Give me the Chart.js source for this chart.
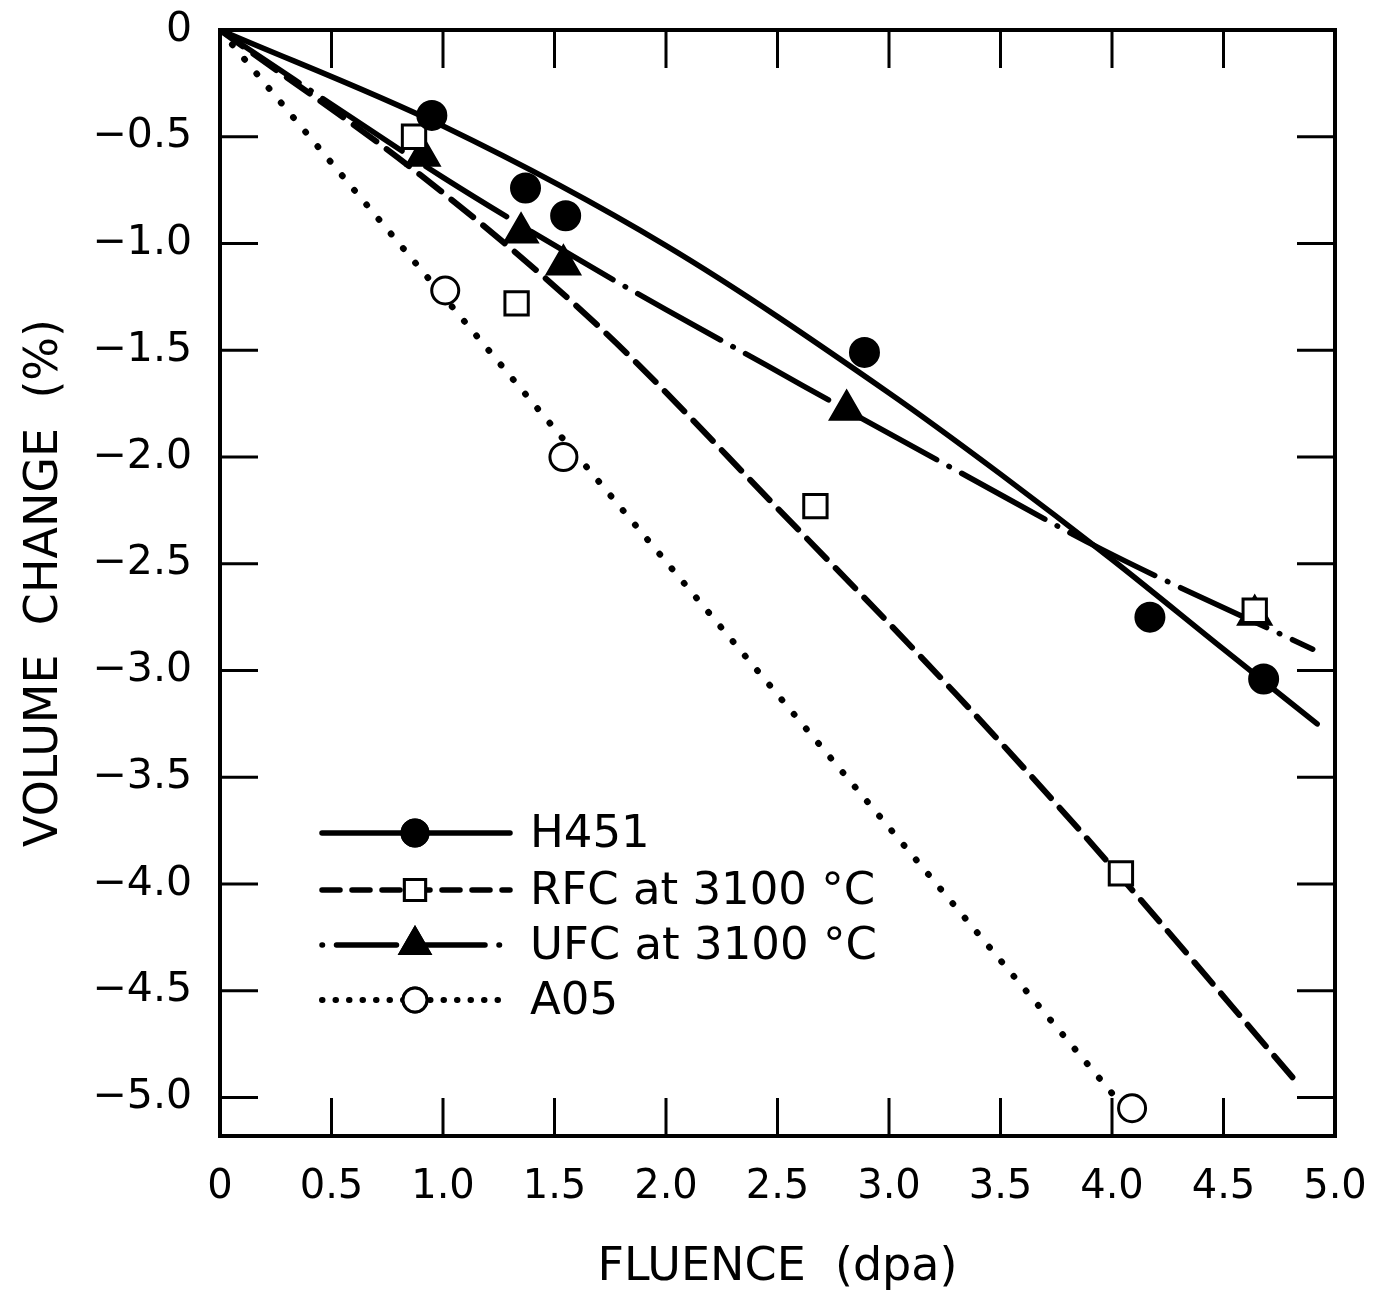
<!DOCTYPE html>
<html>
<head>
<meta charset="utf-8">
<script src="https://cdn.jsdelivr.net/npm/chart.js@4.4.1/dist/chart.umd.min.js"></script>
<style>
  html, body { margin: 0; padding: 0; background: #fff; }
  #chart { display: block; }
</style>
</head>
<body>
<canvas id="chart" width="1377" height="1295"></canvas>
<script>
// measured points (fluence in dpa, volume change in %)
const h451Fluence = [0.95, 1.37, 1.55, 2.89, 4.17, 4.68];
const h451Change  = [-0.40, -0.74, -0.87, -1.51, -2.75, -3.04];
const rfcFluence  = [0.87, 1.33, 2.67, 4.04, 4.64];
const rfcChange   = [-0.50, -1.28, -2.23, -3.95, -2.72];
const ufcFluence  = [0.91, 1.35, 1.54, 2.81, 4.64];
const ufcChange   = [-0.59, -0.95, -1.10, -1.78, -2.74];
const a05Fluence  = [1.01, 1.54, 4.09];
const a05Change   = [-1.22, -2.00, -5.05];

// hand-drawn trend curves
const h451FitFluence = [0, 1, 2, 3, 3.5, 4, 4.5, 4.92];
const h451FitChange  = [0, -0.45, -1.01, -1.70, -2.08, -2.48, -2.90, -3.25];
const rfcFitFluence  = [0, 0.9, 1.7, 2.5, 3.3, 3.95, 4.83];
const rfcFitChange   = [0, -0.68, -1.39, -2.24, -3.11, -3.86, -4.93];
const ufcFitFluence  = [0, 1.0, 1.6, 2.0, 2.45, 2.81, 3.35, 3.95, 4.9];
const ufcFitChange   = [0, -0.69, -1.07, -1.31, -1.57, -1.78, -2.09, -2.43, -2.90];
const a05FitFluence  = [0, 4.0];
const a05FitChange   = [0, -4.98];

const seriesLabels = ['H451', 'RFC at 3100 °C', 'UFC at 3100 °C', 'A05'];
const xTickStep = 0.5;
const yTickStep = 0.5;

const FONT = 'DejaVu Sans';
const INK = '#000';

// dash styles for each series
const dashes = {
  h451: [],
  rfc: [28, 13],
  ufc: [95, 14, 0.5, 14],
  a05: [0.5, 18.5]
};

function toPoints(xs, ys) {
  return xs.map((x, i) => ({ x: x, y: ys[i] }));
}

function markerSet(label, xs, ys, style, radius, fill) {
  return {
    label: label,
    data: toPoints(xs, ys),
    showLine: false,
    pointStyle: style,
    pointRadius: radius,
    pointHoverRadius: radius,
    pointBackgroundColor: fill,
    pointBorderColor: INK,
    pointBorderWidth: 3
  };
}

function fitSet(label, xs, ys, dash, width) {
  return {
    label: label + ' fit',
    data: toPoints(xs, ys),
    showLine: true,
    pointRadius: 0,
    borderColor: INK,
    borderWidth: width,
    borderDash: dash,
    borderCapStyle: 'round',
    cubicInterpolationMode: 'monotone',
    fill: false
  };
}

const datasets = [
  markerSet(seriesLabels[0], h451Fluence, h451Change, 'circle', 14, INK),
  markerSet(seriesLabels[1], rfcFluence, rfcChange, 'rect', 16.5, '#fff'),
  markerSet(seriesLabels[2], ufcFluence, ufcChange, 'triangle', 18.5, INK),
  markerSet(seriesLabels[3], a05Fluence, a05Change, 'circle', 13.5, '#fff'),
  fitSet(seriesLabels[0], h451FitFluence, h451FitChange, dashes.h451, 5.5),
  fitSet(seriesLabels[1], rfcFitFluence, rfcFitChange, dashes.rfc, 6),
  fitSet(seriesLabels[2], ufcFitFluence, ufcFitChange, dashes.ufc, 5.5),
  fitSet(seriesLabels[3], a05FitFluence, a05FitChange, dashes.a05, 6.5)
];

// frame and inward ticks on all four sides
const frameTicks = {
  id: 'frameTicks',
  afterDatasetsDraw(chart) {
    const ctx = chart.ctx;
    const a = chart.chartArea;
    const len = 38;
    ctx.save();
    ctx.strokeStyle = INK;
    ctx.lineWidth = 4;
    ctx.setLineDash([]);
    ctx.strokeRect(a.left, a.top, a.right - a.left, a.bottom - a.top);
    ctx.lineWidth = 3;
    ctx.beginPath();
    chart.scales.x.ticks.forEach(t => {
      const px = chart.scales.x.getPixelForValue(t.value);
      ctx.moveTo(px, a.bottom); ctx.lineTo(px, a.bottom - len);
      ctx.moveTo(px, a.top); ctx.lineTo(px, a.top + len);
    });
    chart.scales.y.ticks.forEach(t => {
      const py = chart.scales.y.getPixelForValue(t.value);
      ctx.moveTo(a.left, py); ctx.lineTo(a.left + len, py);
      ctx.moveTo(a.right, py); ctx.lineTo(a.right - len, py);
    });
    ctx.stroke();
    ctx.restore();
  }
};

// legend drawn inside the plot, lower left
const insideLegend = {
  id: 'insideLegend',
  afterDraw(chart) {
    const ctx = chart.ctx;
    const rows = [833, 890, 945, 1000];
    const x0 = 322, x1 = 510, xm = 415, xt = 530;
    const styles = [
      { dash: [], w: 5.5, marker: 'circle', r: 13, fill: INK },
      { dash: [18, 12], w: 5.5, marker: 'rect', r: 15, fill: '#fff' },
      { dash: [0.5, 14, 60, 14], w: 5.5, marker: 'triangle', r: 17, fill: INK },
      { dash: [0.5, 13], w: 6, marker: 'circle', r: 12, fill: '#fff' }
    ];
    ctx.save();
    seriesLabels.forEach((label, i) => {
      const y = rows[i];
      const s = styles[i];
      ctx.strokeStyle = INK;
      ctx.lineWidth = s.w;
      ctx.lineCap = 'round';
      ctx.setLineDash(s.dash);
      ctx.beginPath();
      ctx.moveTo(x0, y); ctx.lineTo(x1, y);
      ctx.stroke();
      ctx.setLineDash([]);
      ctx.lineWidth = 3;
      Chart.helpers.drawPoint(ctx, {
        pointStyle: s.marker, radius: s.r, borderWidth: 3, rotation: 0
      }, xm, y);
      ctx.fillStyle = s.fill;
      ctx.fill();
      ctx.stroke();
      ctx.fillStyle = INK;
      ctx.font = '45px "' + FONT + '"';
      ctx.textBaseline = 'middle';
      ctx.textAlign = 'left';
      ctx.fillText(label, xt, y + 2);
    });
    ctx.restore();
  }
};

new Chart(document.getElementById('chart'), {
  type: 'scatter',
  data: { datasets: datasets },
  options: {
    responsive: false,
    animation: false,
    devicePixelRatio: 1,
    layout: { padding: { top: 30, right: 42, left: 0, bottom: 0 } },
    plugins: {
      legend: { display: false },
      tooltip: { enabled: false }
    },
    scales: {
      x: {
        type: 'linear',
        min: 0,
        max: 5,
        afterFit: s => { s.height = 159; s.paddingLeft = 0; s.paddingRight = 0; },
        grid: { display: false, drawTicks: false },
        border: { display: false },
        ticks: {
          stepSize: xTickStep,
          includeBounds: false,
          maxRotation: 0,
          padding: 28,
          color: INK,
          font: { family: FONT, size: 40 },
          callback: v => v === 0 ? '0' : v.toFixed(1)
        },
        title: {
          display: true,
          text: 'FLUENCE  (dpa)',
          color: INK,
          font: { family: FONT, size: 46, lineHeight: 1 },
          padding: { top: 0, bottom: 4 }
        }
      },
      y: {
        type: 'linear',
        min: -5.18,
        max: 0,
        afterFit: s => { s.width = 220; s.paddingTop = 0; s.paddingBottom = 0; },
        grid: { display: false, drawTicks: false },
        border: { display: false },
        ticks: {
          stepSize: yTickStep,
          includeBounds: false,
          padding: 28,
          color: INK,
          font: { family: FONT, size: 41 },
          callback: v => v === 0 ? '0' : '\u2212' + Math.abs(v).toFixed(1)
        },
        title: {
          display: true,
          text: 'VOLUME  CHANGE  (%)',
          color: INK,
          font: { family: FONT, size: 46, lineHeight: 1 },
          padding: { top: 22, bottom: 0 }
        }
      }
    }
  },
  plugins: [frameTicks, insideLegend]
});
</script>
</body>
</html>
